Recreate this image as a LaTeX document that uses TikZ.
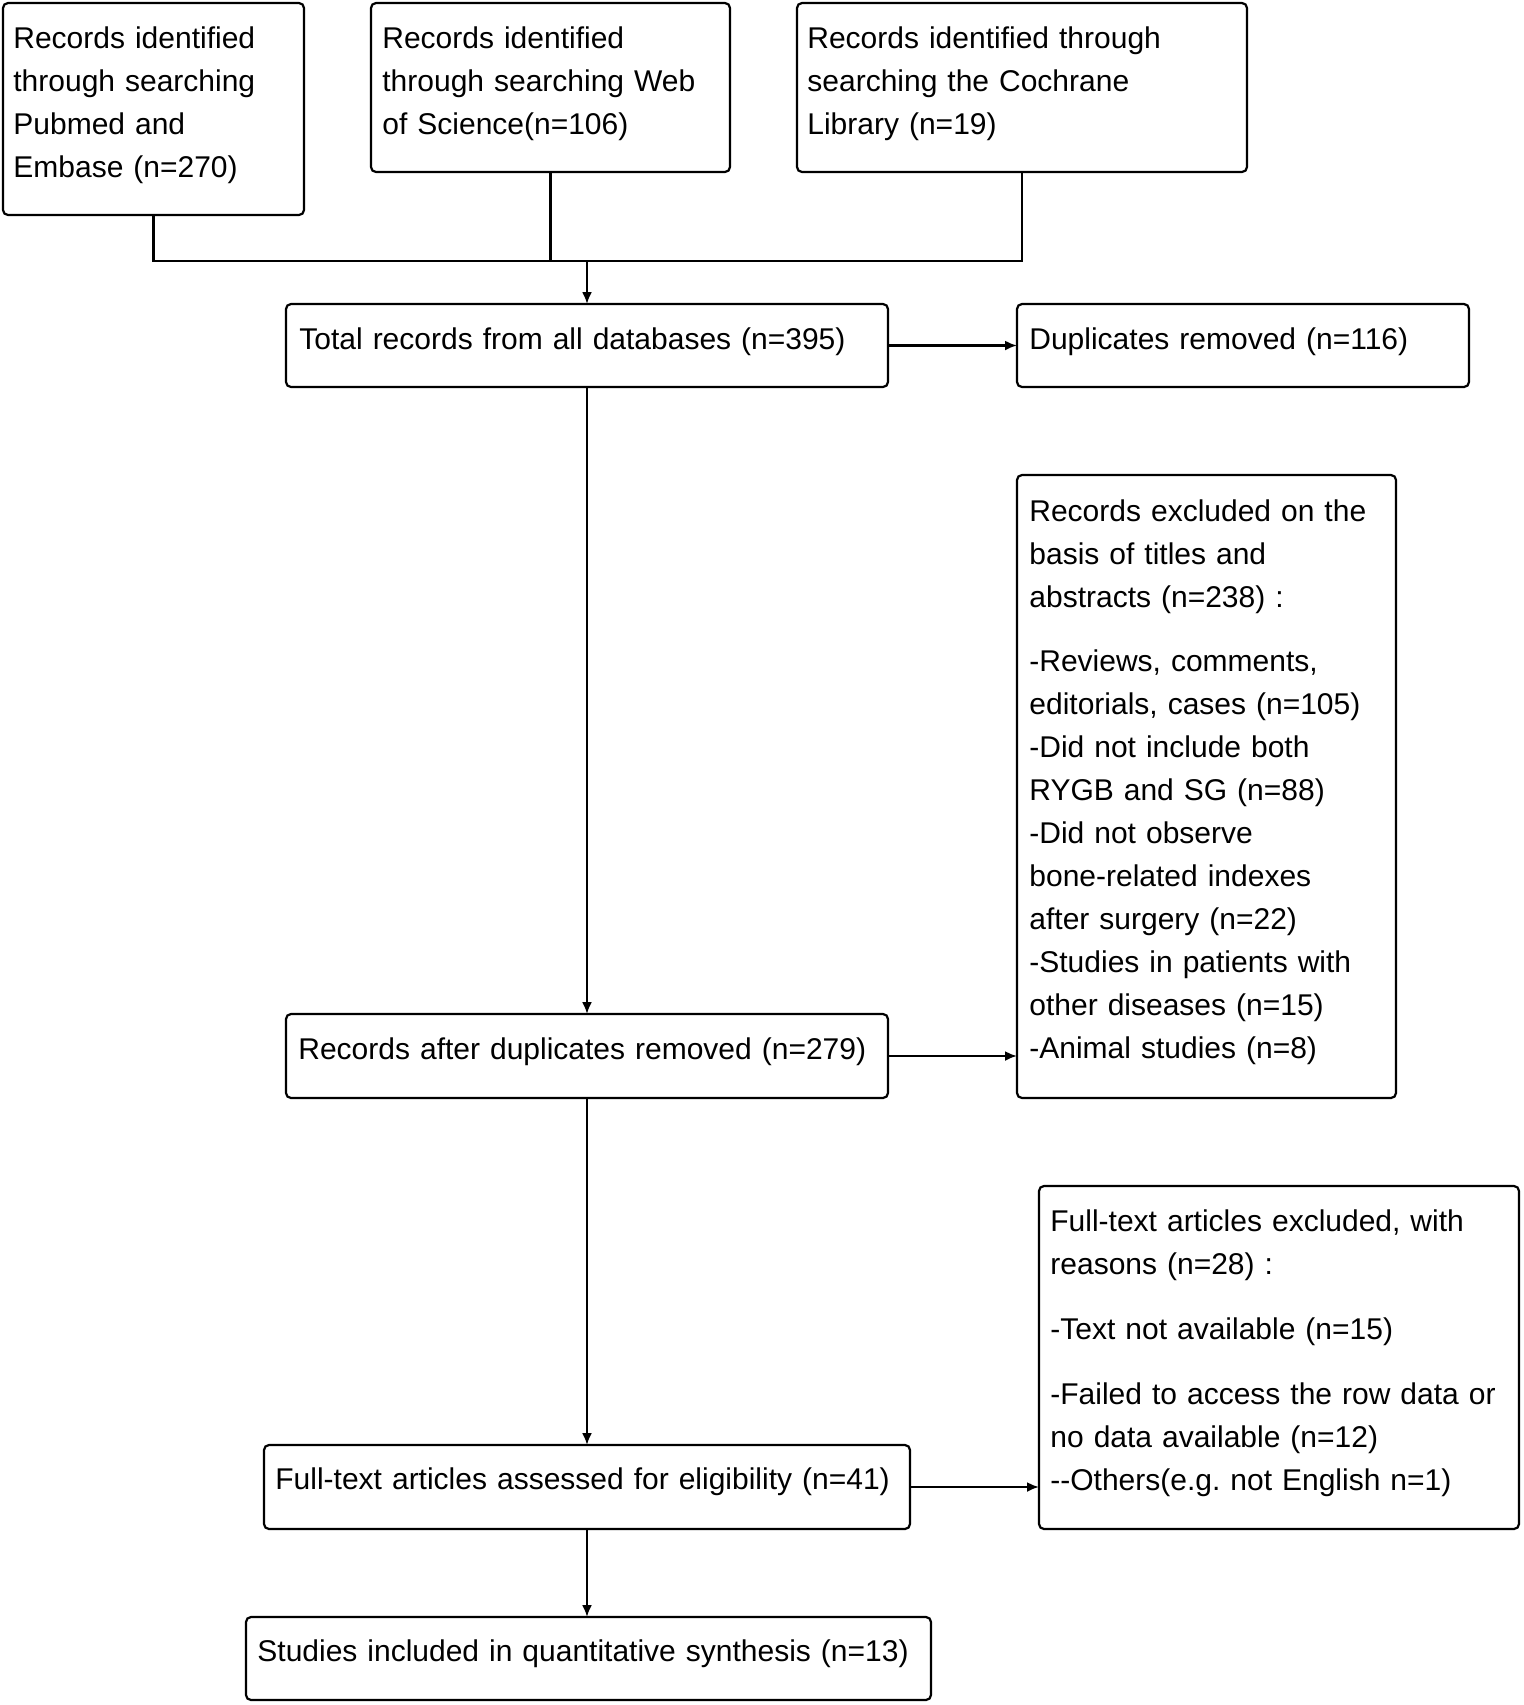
\documentclass[tikz,border=0pt]{standalone}
\usepackage{fontspec}
\setmainfont{Liberation Sans}
\usetikzlibrary{arrows.meta}
\frenchspacing
\begin{document}
\begin{tikzpicture}[x=0.5pt,y=-0.5pt,
  box/.style={draw, line width=1.1pt, rounded corners=2.5pt, outer sep=0pt, inner sep=0pt},
  txt/.style={anchor=base west, inner sep=0pt, align=left, text width=345pt,
    font=\fontsize{15pt}{21.5pt}\selectfont},
  conn/.style={line width=1.1pt},
  arr/.style={line width=1.1pt, -{Latex[length=6pt,width=5pt]}}]
\useasboundingbox (0,0) rectangle (1524,1705);
% boxes
\node[box, minimum width=150.5pt, minimum height=106pt] (b1) at (153.5,109) {};
\node[box, minimum width=179.5pt, minimum height=84.5pt] (b2) at (550.5,87.5) {};
\node[box, minimum width=225pt, minimum height=84.5pt] (b3) at (1022,87.5) {};
\node[box, minimum width=301pt, minimum height=41.5pt] (b4) at (587,345.5) {};
\node[box, minimum width=226pt, minimum height=41.5pt] (b5) at (1243,345.5) {};
\node[box, minimum width=189.5pt, minimum height=311.5pt] (b6) at (1206.5,786.5) {};
\node[box, minimum width=301pt, minimum height=42pt] (b7) at (587,1056) {};
\node[box, minimum width=240pt, minimum height=171.5pt] (b8) at (1279,1357.5) {};
\node[box, minimum width=323pt, minimum height=42pt] (b9) at (587,1487) {};
\node[box, minimum width=342.5pt, minimum height=41.5pt] (b10) at (588.5,1658.5) {};
% texts
\node[txt] (t1) at (13,48) {Records identified\\through searching\\Pubmed and\\Embase (n=270)};
\node[txt] (t2) at (382,48) {Records identified\\through searching Web\\of Science(n=106)};
\node[txt] (t3) at (807,48) {Records identified through\\searching the Cochrane\\Library (n=19)};
\node[txt] (t4) at (299,349) {Total records from all databases (n=395)};
\node[txt] (t5) at (1029,349) {Duplicates removed (n=116)};
\node[txt] (t6) at (1029,521) {Records excluded on the\\basis of titles and\\abstracts (n=238) :\\[10.5pt]-Reviews, comments,\\editorials, cases (n=105)\\-Did not include both\\RYGB and SG (n=88)\\-Did not observe\\bone-related indexes\\after surgery (n=22)\\-Studies in patients with\\other diseases (n=15)\\-Animal studies (n=8)};
\node[txt] (t7) at (298,1059) {Records after duplicates removed (n=279)};
\node[txt] (t8) at (1050,1231) {Full-text articles excluded, with\\reasons (n=28) :\\[11pt]-Text not available (n=15)\\[11pt]-Failed to access the row data or\\no data available (n=12)\\-{}-Others(e.g. not English n=1)};
\node[txt] (t9) at (275,1489) {Full-text articles assessed for eligibility (n=41)};
\node[txt] (t10) at (257,1661) {Studies included in quantitative synthesis (n=13)};
% connectors
\coordinate (j) at (587,261);
\draw[conn] (b1.south) -- (b1.south |- j) -- (b3.south |- j) -- (b3.south);
\draw[conn] (b2.south) -- (b2.south |- j);
\draw[arr] (b4.north |- j) -- (b4.north);
\draw[arr] (b4.east) -- (b5.west);
\draw[arr] (b4.south) -- (b7.north);
\draw[arr] (b7.east) -- (b7.east -| b6.west);
\draw[arr] (b7.south) -- (b9.north);
\draw[arr] (b9.east) -- (b9.east -| b8.west);
\draw[arr] (b9.south) -- (b9.south |- b10.north);
\end{tikzpicture}
\end{document}
